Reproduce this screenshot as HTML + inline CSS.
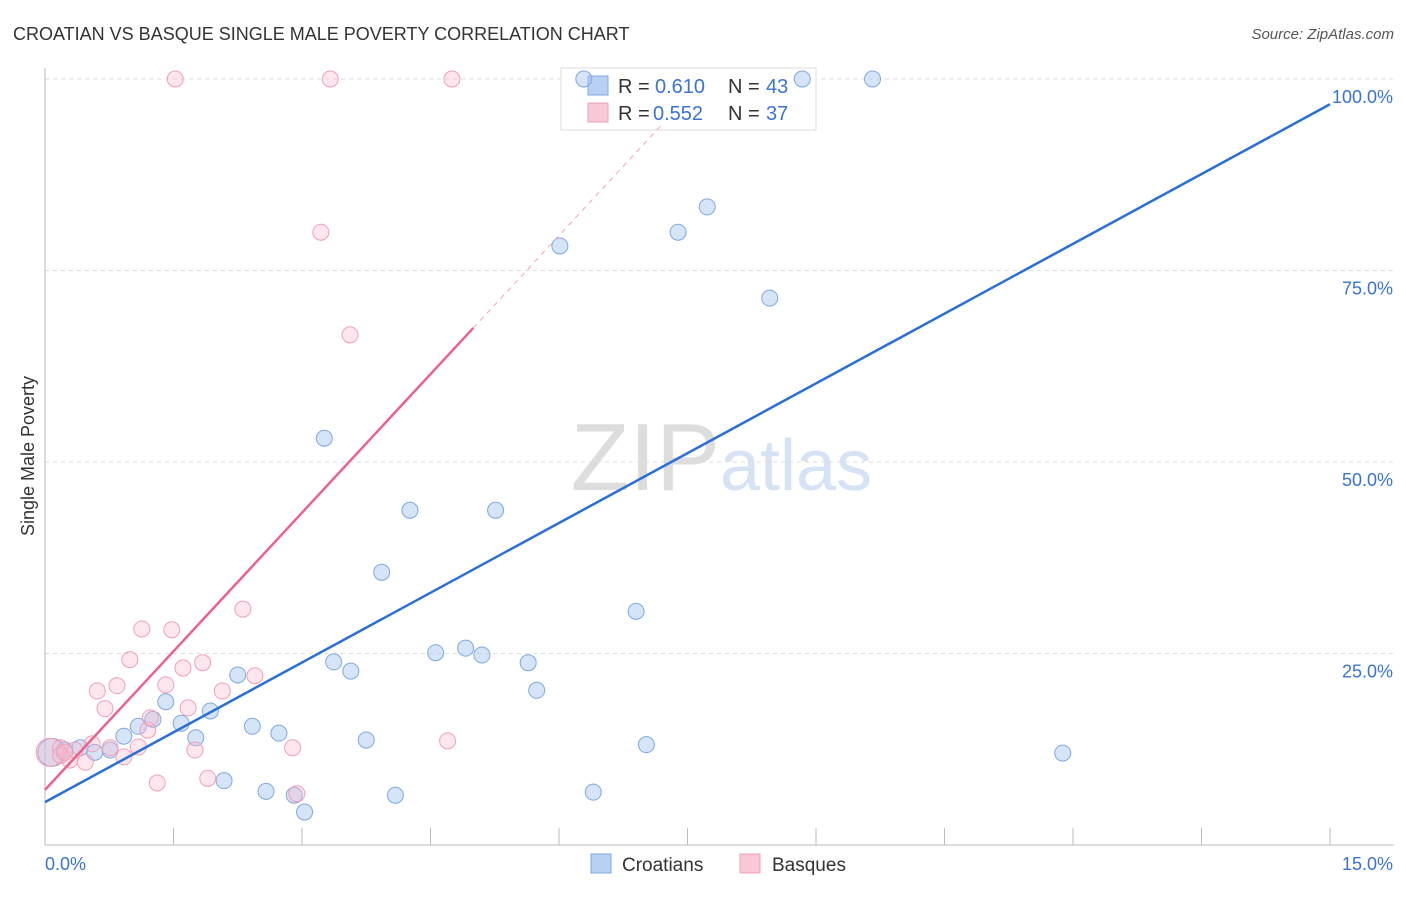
<!DOCTYPE html>
<html><head><meta charset="utf-8"><style>
body{margin:0;background:#fff;font-family:"Liberation Sans",sans-serif;}
svg text{font-family:"Liberation Sans",sans-serif;}
</style></head><body>
<svg id="c" width="1406" height="892" xmlns="http://www.w3.org/2000/svg">
<text x="13" y="40" font-size="18" fill="#333">CROATIAN VS BASQUE SINGLE MALE POVERTY CORRELATION CHART</text>
<text x="1394" y="39" font-size="15" fill="#555" font-style="italic" text-anchor="end">Source: ZipAtlas.com</text>
<text x="720" y="490" font-size="96" fill="#ddd" text-anchor="end" font-family="Liberation Serif">ZIP</text>
<text x="720" y="490" font-size="72" fill="#d5e3f5">atlas</text>
<text transform="translate(34,456) rotate(-90)" font-size="18" fill="#333" text-anchor="middle">Single Male Poverty</text>
<g id="grid"></g>
<g>
<rect x="561" y="68" width="255" height="62" fill="#fff" stroke="#ddd"/>
<rect x="588" y="76" width="20" height="19" fill="#b8d0f2" stroke="#7fa8e0"/>
<rect x="588" y="103" width="20" height="19" fill="#f9c8d6" stroke="#f0a0b8"/>
<text x="618" y="93" font-size="20" fill="#333">R =</text>
<text x="655" y="93" font-size="20" fill="#3a73d0">0.610</text>
<text x="728" y="93" font-size="20" fill="#333">N =</text>
<text x="766" y="93" font-size="20" fill="#3a73d0">43</text>
<text x="618" y="120" font-size="20" fill="#333">R =</text>
<text x="653" y="120" font-size="20" fill="#3a73d0">0.552</text>
<text x="728" y="120" font-size="20" fill="#333">N =</text>
<text x="766" y="120" font-size="20" fill="#3a73d0">37</text>
</g>
<g id="marks"></g>
<g>
<rect x="591" y="854" width="20" height="19" fill="#b8d0f2" stroke="#7fa8e0"/>
<text x="622" y="871" font-size="19" fill="#333">Croatians</text>
<rect x="740" y="854" width="20" height="19" fill="#f9c8d6" stroke="#f0a0b8"/>
<text x="772" y="871" font-size="19" fill="#333">Basques</text>
</g>
</svg>
<script>
const blueX=[0.08,0.23,0.41,0.58,0.76,0.92,1.09,1.26,1.41,1.59,1.76,1.93,2.09,2.25,2.42,2.58,2.73,2.91,3.03,3.26,3.37,3.57,3.75,3.93,4.09,4.26,4.56,4.91,5.10,5.26,5.64,5.74,6.01,6.29,6.40,6.90,7.02,7.39,7.73,8.46,8.84,9.66,11.88];
const blueY=[12.1,12.4,12.7,12.1,12.4,14.2,15.5,16.4,18.7,15.9,14.0,17.5,8.4,22.2,15.5,7.0,14.6,6.5,4.3,53.1,23.9,22.7,13.7,35.6,6.5,43.7,25.1,25.7,24.8,43.7,23.8,20.2,78.2,100,6.9,30.5,13.1,80.0,83.3,71.4,100,100,12.0];
const pinkX=[0.06,0.18,0.29,0.47,0.55,0.61,0.70,0.84,0.92,0.99,1.09,1.13,1.20,1.31,1.41,1.48,1.61,1.67,1.75,1.84,1.90,2.07,2.31,2.45,2.89,2.94,1.52,3.22,3.33,3.56,4.70,4.75,0.18,0.35,0.76,1.23,0.23];
const pinkY=[12.1,12.7,11.1,10.8,13.2,20.1,17.8,20.8,11.5,24.2,12.8,28.2,15.0,8.1,20.9,28.1,23.1,17.9,12.4,23.8,8.7,20.1,30.8,22.1,12.7,6.7,100,80.0,100,66.6,13.6,100,11.7,12.4,12.7,16.6,12.1];
const yTicks=[25,50,75,100];
const yTickLabels=["25.0%","50.0%","75.0%","100.0%"];
const blueTrend=[5.6,96.7];
const pinkTrend=[7.2,67.5];
const pinkTrendEndX=5.0;
const X=v=>45+v*(1330-45)/15, Y=v=>845-v*(845-79)/100;
const NS="http://www.w3.org/2000/svg";
function mk(t,a,p){const e=document.createElementNS(NS,t);for(const k in a)e.setAttribute(k,a[k]);p.appendChild(e);return e;}
const g=document.getElementById('grid'),m=document.getElementById('marks');
yTicks.forEach((t,i)=>{
 const l=mk('line',{x1:45,x2:1394,y1:Y(t),y2:Y(t),stroke:'#ddd','stroke-dasharray':'4,4'},g);
 
 
 const tx=mk('text',{x:1393,y:Y(t)+24,'font-size':18,fill:'#3a73d0','text-anchor':'end'},g);tx.textContent=yTickLabels[i];
 
 
});
mk('line',{x1:45,x2:45,y1:68,y2:845,stroke:'#bbb'},g);
mk('line',{x1:45,x2:1394,y1:845,y2:845,stroke:'#bbb'},g);
for(let i=0;i<=10;i++){mk('line',{x1:X(i*1.5),x2:X(i*1.5),y1:828,y2:845,stroke:'#bbb'},g);}
const xl0=mk('text',{x:45,y:870,'font-size':18,fill:'#3a73d0'},g);xl0.textContent='0.0%';


const xl1=mk('text',{x:1393,y:870,'font-size':18,fill:'#3a73d0','text-anchor':'end'},g);xl1.textContent='15.0%';


function dots(xs,ys,fill,stroke,name){xs.forEach((x,i)=>{
 const c=mk('circle',{cx:X(x),cy:Y(ys[i]),r:i==0?14:8,fill:fill,stroke:stroke,'stroke-width':1},m);
 
 
});}
dots(blueX,blueY,'rgba(164,196,240,0.45)','#7fa8e0','croatian-point');
dots(pinkX,pinkY,'rgba(248,184,204,0.35)','#f0a0b8','basque-point');
const bl=mk('line',{x1:X(0),y1:Y(blueTrend[0]),x2:X(15),y2:Y(blueTrend[1]),stroke:'#2a6fd6','stroke-width':2.5},m);


const pl=mk('line',{x1:X(0),y1:Y(pinkTrend[0]),x2:X(pinkTrendEndX),y2:Y(pinkTrend[1]),stroke:'#e8648a','stroke-width':2.5},m);


const slope=(pinkTrend[1]-pinkTrend[0])/pinkTrendEndX, xe=(94-pinkTrend[0])/slope;
const pd=mk('line',{x1:X(pinkTrendEndX),y1:Y(pinkTrend[1]),x2:X(xe),y2:Y(94),stroke:'#f0a0b8','stroke-width':1,'stroke-dasharray':'5,5'},m);


</script>
</body></html>
